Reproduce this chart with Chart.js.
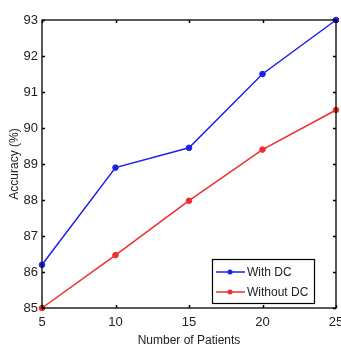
<!DOCTYPE html>
<html>
<head>
<meta charset="utf-8">
<script src="https://cdn.jsdelivr.net/npm/chart.js@4.4.1/dist/chart.umd.min.js"></script>
<style>
  html, body { margin: 0; padding: 0; background: #ffffff; }
  #wrap { width: 341px; height: 350px; position: relative; }
</style>
</head>
<body>
<div id="wrap"><canvas id="chart" width="341" height="350"></canvas></div>
<script>
// Number of patients on the x axis
const patients = [5, 10, 15, 20, 25];
// Accuracy (%) with and without DC
const withDC = [86.2, 88.9, 89.45, 91.5, 93.0];
const withoutDC = [85.0, 86.47, 87.98, 89.4, 90.5];
const seriesNames = ['With DC', 'Without DC'];
const xTicks = [5, 10, 15, 20, 25];
const yTicks = [85, 86, 87, 88, 89, 90, 91, 92, 93];

const BLUE = 'rgb(30,30,235)';
const RED = 'rgb(240,45,45)';
const FONT = "'Liberation Sans Narrow', 'Liberation Sans', Arial, sans-serif";

// Box frame with inward tick marks on all four sides, plus an in-plot legend
const framePlugin = {
  id: 'frame',
  afterDraw(chart) {
    const { ctx, chartArea: a, scales } = chart;
    ctx.save();
    ctx.strokeStyle = '#000';
    ctx.lineWidth = 1.3;
    ctx.strokeRect(a.left, a.top, a.right - a.left, a.bottom - a.top);
    const tl = 3;
    ctx.beginPath();
    xTicks.forEach(v => {
      const x = Math.round(scales.x.getPixelForValue(v)) + 0.5;
      ctx.moveTo(x, a.bottom); ctx.lineTo(x, a.bottom - tl);
      ctx.moveTo(x, a.top); ctx.lineTo(x, a.top + tl);
    });
    yTicks.forEach(v => {
      const y = Math.round(scales.y.getPixelForValue(v)) + 0.5;
      ctx.moveTo(a.left, y); ctx.lineTo(a.left + tl, y);
      ctx.moveTo(a.right, y); ctx.lineTo(a.right - tl, y);
    });
    ctx.lineWidth = 1.5;
    ctx.stroke();

    // legend box in the lower right corner
    const bx = 212, by = 259, bw = 102, bh = 44;
    ctx.fillStyle = '#fff';
    ctx.fillRect(bx, by, bw, bh);
    ctx.lineWidth = 1.2;
    ctx.strokeStyle = '#000';
    ctx.strokeRect(bx + 0.5, by + 0.5, bw, bh);
    chart.data.datasets.forEach((ds, i) => {
      const cy = by + 13 + i * 20;
      ctx.strokeStyle = ds.borderColor;
      ctx.lineWidth = 1.5;
      ctx.beginPath();
      ctx.moveTo(bx + 4, cy); ctx.lineTo(bx + 33, cy);
      ctx.stroke();
      ctx.fillStyle = ds.borderColor;
      ctx.beginPath();
      ctx.arc(bx + 18, cy, 2.5, 0, Math.PI * 2);
      ctx.fill();
      ctx.fillStyle = '#222';
      ctx.font = '12px ' + FONT;
      ctx.textBaseline = 'middle';
      ctx.textAlign = 'left';
      ctx.fillText(ds.label, bx + 35, cy + 0.5);
    });
    ctx.restore();
  }
};

new Chart(document.getElementById('chart'), {
  type: 'line',
  data: {
    datasets: [
      {
        label: seriesNames[0],
        data: patients.map((p, i) => ({ x: p, y: withDC[i] })),
        borderColor: BLUE, backgroundColor: BLUE,
        borderWidth: 1.5, pointRadius: 2.8, pointBorderWidth: 1,
        tension: 0, clip: 6
      },
      {
        label: seriesNames[1],
        data: patients.map((p, i) => ({ x: p, y: withoutDC[i] })),
        borderColor: RED, backgroundColor: RED,
        borderWidth: 1.5, pointRadius: 2.8, pointBorderWidth: 1,
        tension: 0, clip: 6
      }
    ]
  },
  options: {
    responsive: false,
    animation: false,
    devicePixelRatio: 1,
    layout: { padding: { top: 20, right: 5, left: 0, bottom: 0 } },
    plugins: { legend: { display: false }, tooltip: { enabled: false } },
    scales: {
      x: {
        type: 'linear', min: 5, max: 25,
        afterBuildTicks: s => { s.ticks = xTicks.map(v => ({ value: v })); },
        afterFit: s => { s.height = 42; s.paddingLeft = 0; s.paddingRight = 0; },
        grid: { display: false, drawTicks: false },
        border: { display: false },
        ticks: { padding: 7, color: '#222', font: { family: FONT, size: 13 } },
        title: {
          display: true, text: 'Number of Patients', color: '#222',
          font: { family: FONT, size: 12 }, padding: { top: 0, bottom: 2 }
        }
      },
      y: {
        type: 'linear', min: 85, max: 93,
        afterBuildTicks: s => { s.ticks = yTicks.map(v => ({ value: v })); },
        afterFit: s => { s.width = 42; s.paddingTop = 0; s.paddingBottom = 0; },
        grid: { display: false, drawTicks: false },
        border: { display: false },
        ticks: { padding: 4, color: '#222', font: { family: FONT, size: 13 } },
        title: {
          display: true, text: 'Accuracy (%)', color: '#222',
          font: { family: FONT, size: 12 }, padding: { top: 7, bottom: 0 }
        }
      }
    }
  },
  plugins: [framePlugin]
});
</script>
</body>
</html>
